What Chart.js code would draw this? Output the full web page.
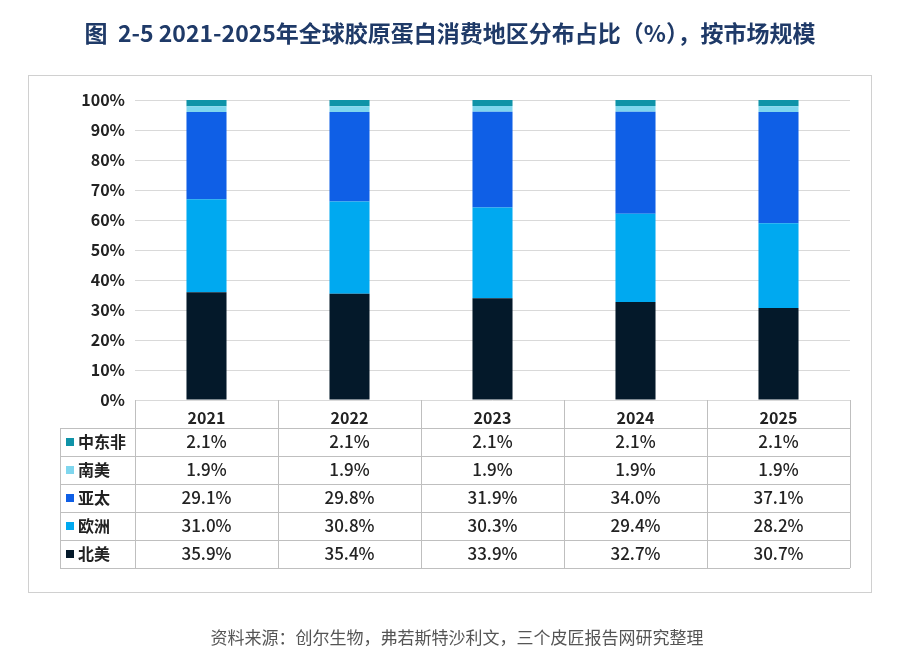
<!DOCTYPE html>
<html>
<head>
<meta charset="utf-8">
<script src="https://cdn.jsdelivr.net/npm/chart.js@4"></script>
<style>
  html, body { margin: 0; padding: 0; background: #fff; }
  #wrap { width: 899px; height: 664px; }
</style>
</head>
<body>
<div id="wrap"><canvas id="grafico"></canvas></div>
<script>
// Dados do gráfico
var years = ['2021', '2022', '2023', '2024', '2025'];
var northAmerica = [35.9, 35.4, 33.9, 32.7, 30.7];
var europe = [31.0, 30.8, 30.3, 29.4, 28.2];
var asiaPacific = [29.1, 29.8, 31.9, 34.0, 37.1];
var southAmerica = [1.9, 1.9, 1.9, 1.9, 1.9];
var middleEastAfrica = [2.1, 2.1, 2.1, 2.1, 2.1];
var yTicks = [0, 10, 20, 30, 40, 50, 60, 70, 80, 90, 100];

var FONT = '"Noto Sans CJK SC", "Noto Sans", sans-serif';

var datasets = [
  { label: '北美', data: northAmerica, backgroundColor: '#04192a' },
  { label: '欧洲', data: europe, backgroundColor: '#00a9f0' },
  { label: '亚太', data: asiaPacific, backgroundColor: '#0f5fe6' },
  { label: '南美', data: southAmerica, backgroundColor: '#7fd6ee' },
  { label: '中东非', data: middleEastAfrica, backgroundColor: '#0f93a8' }
].map(function (d) {
  d.barPercentage = 0.28;
  d.categoryPercentage = 1;
  return d;
});

// tabela, título e fonte desenhados por plugin
var tablePlugin = {
  id: 'tablePlugin',
  afterDraw: function (chart) {
    var c = chart.ctx, x = chart.scales.x, area = chart.chartArea;
    var rowH = 28, top = area.bottom, labelLeft = 60;
    var step = x.getPixelForValue(1) - x.getPixelForValue(0);
    var rows = chart.data.datasets.slice().reverse();
    var bottom = top + rowH * (rows.length + 1);
    c.save();
    // moldura
    c.strokeStyle = '#d0d0d0'; c.lineWidth = 1;
    c.strokeRect(28.5, 75.5, 843, 517);
    // bordas da tabela
    c.strokeStyle = '#bfbfbf';
    c.beginPath();
    for (var i = 0; i <= years.length; i++) {
      var px = Math.round(area.left + step * i) + 0.5;
      c.moveTo(px, top); c.lineTo(px, bottom);
    }
    c.moveTo(labelLeft + 0.5, top + rowH); c.lineTo(labelLeft + 0.5, bottom);
    for (var r = 1; r <= rows.length + 1; r++) {
      var py = Math.round(top + rowH * r) + 0.5;
      c.moveTo(labelLeft, py); c.lineTo(area.right, py);
    }
    c.stroke();
    // conteúdo
    c.textBaseline = 'middle';
    rows.forEach(function (ds, r) {
      var cy = top + rowH * (r + 1) + rowH / 2;
      c.fillStyle = ds.backgroundColor;
      c.fillRect(labelLeft + 6, cy - 4, 8, 8);
      c.fillStyle = '#222';
      c.font = 'bold 16px ' + FONT;
      c.textAlign = 'left';
      c.fillText(ds.label, labelLeft + 18, cy);
      c.textAlign = 'center';
      c.font = '500 17px ' + FONT;
      ds.data.forEach(function (v, i) {
        c.fillText(v.toFixed(1) + '%', x.getPixelForValue(i), cy);
      });
    });
    // título
    c.fillStyle = '#1f3a68';
    c.font = 'bold 23px ' + FONT;
    c.textAlign = 'center';
    c.fillText('图  2-5 2021-2025年全球胶原蛋白消费地区分布占比（%），按市场规模', 450, 33);
    // fonte
    c.fillStyle = '#555';
    c.font = '17px ' + FONT;
    c.fillText('资料来源：创尔生物，弗若斯特沙利文，三个皮匠报告网研究整理', 457, 638);
    c.restore();
  }
};

var options = {
  responsive: false,
  animation: false,
  layout: { padding: { left: 28, right: 49, top: 100, bottom: 236 } },
  plugins: { legend: { display: false }, tooltip: { enabled: false } },
  scales: {
    x: {
      stacked: true,
      grid: { display: false },
      border: { display: false },
      ticks: { color: '#222', font: { family: FONT, size: 16, weight: 'bold' }, padding: 0 },
      afterFit: function (s) { s.height = 28; }
    },
    y: {
      stacked: true, min: 0, max: 100,
      afterBuildTicks: function (s) { s.ticks = yTicks.map(function (v) { return { value: v }; }); },
      afterFit: function (s) { s.width = 107; },
      grid: { color: '#d9d9d9', drawTicks: false },
      border: { display: false },
      ticks: {
        color: '#222', padding: 10,
        font: { family: FONT, size: 16, weight: 'bold' },
        callback: function (v) { return v + '%'; }
      }
    }
  }
};

var canvas = document.querySelector('#grafico');
canvas.width = 899; canvas.height = 664;
var barChart = new Chart(canvas, {
  type: 'bar',
  data: { labels: years, datasets: datasets },
  options: options,
  plugins: [tablePlugin]
});
</script>
</body>
</html>
